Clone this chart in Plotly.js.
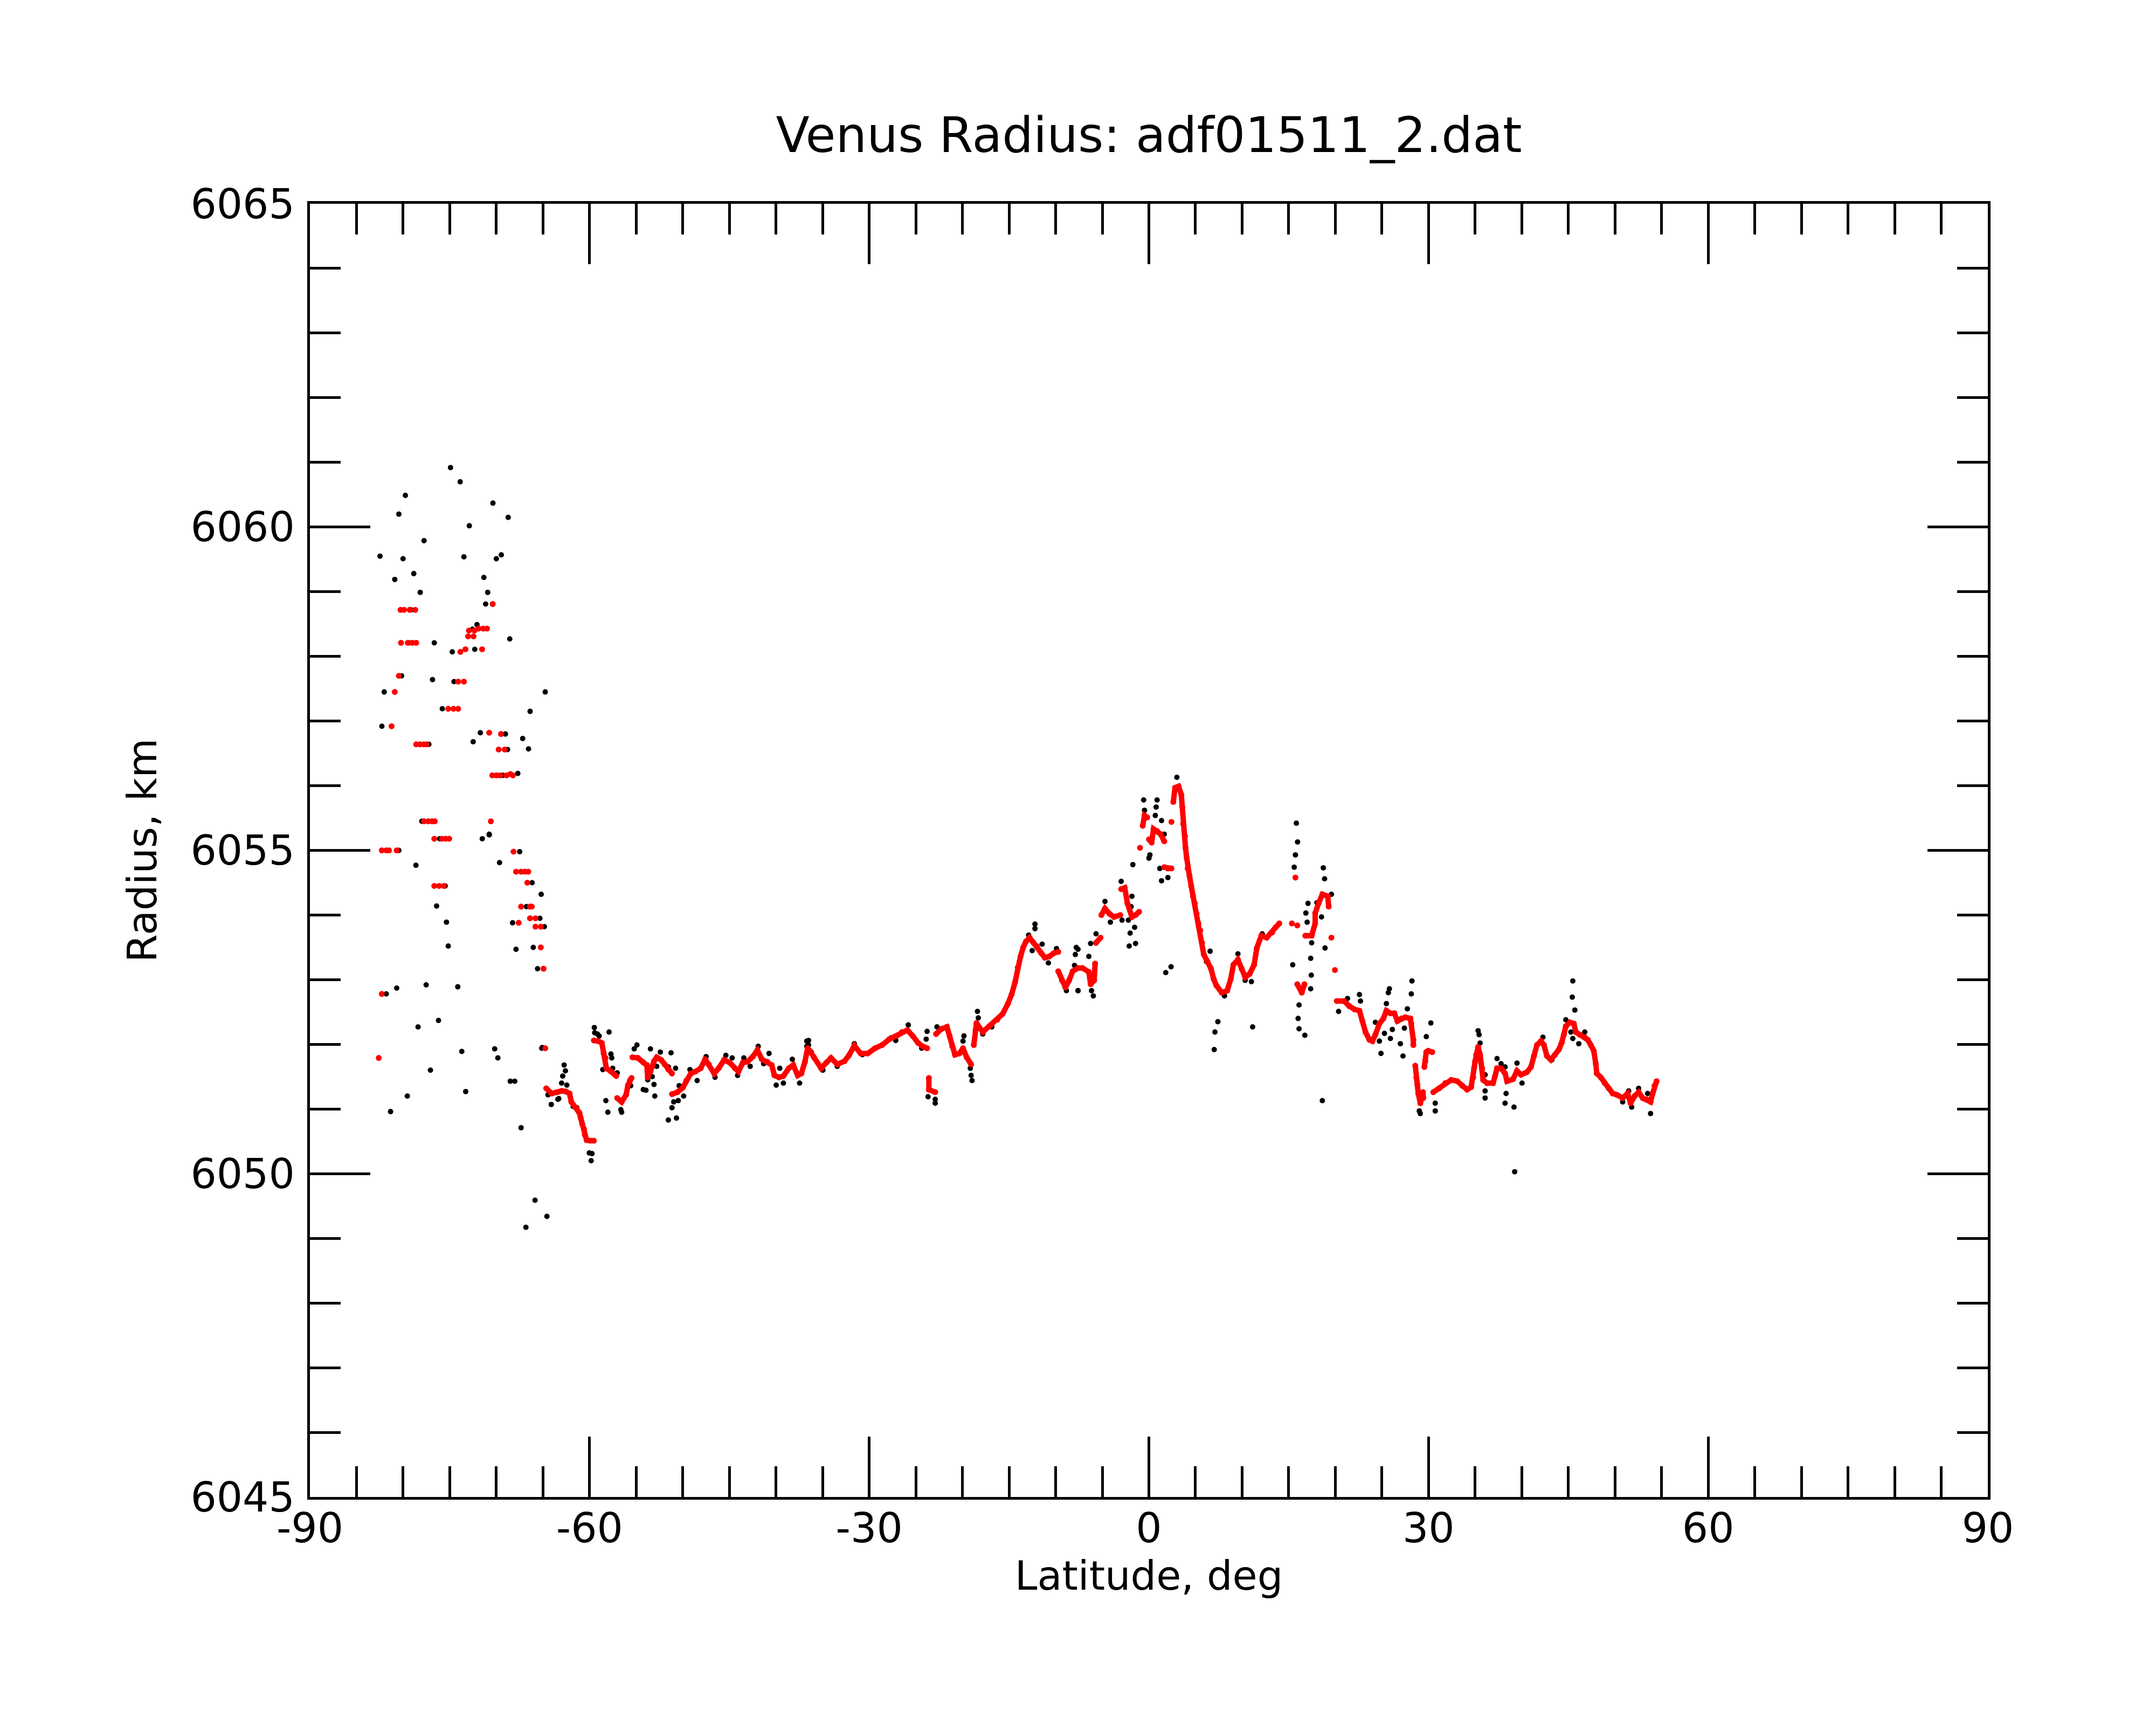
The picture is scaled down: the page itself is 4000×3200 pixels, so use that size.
<!DOCTYPE html>
<html>
<head>
<meta charset="utf-8">
<script src="https://cdn.plot.ly/plotly-3.0.1.min.js"></script>
<style>html,body{margin:0;padding:0;background:#fff;}#chart{width:4000px;height:3200px;}</style>
</head>
<body>
<div id="chart"></div>
<script>
// ---- Data ----
// Raw radius samples (black dots), southern high-latitude scatter
const rawSouthLat = [-74.92,-73.88,-79.76,-70.37,-80.46,-68.73,-72.90,-77.76,-82.48,-80.01,-73.48,-70.0,-69.47,-78.86,-80.90,-71.34,-78.17,-70.93,-71.15,-79.15,-72.08,-72.56,-68.56,-79.35,-76.66,-74.73,-72.32,-80.17,-76.85,-74.54,-82.03,-64.76,-66.38,-75.8,-82.28,-71.72,-69.03,-67.18,-72.49,-77.24,-68.8,-66.55,-69.31,-67.7,-78.0,-70.77,
  -76.08,-71.51,-70.76,-80.46,-67.5,-78.63,-69.66,-66.16,-65.19,-75.49,-76.41,-75.35,-66.77,-68.26,-65.33,-64.85,-75.16,-67.89,-66.04,-65.58,-80.69,-77.53,-74.14,-81.81,-76.21,-78.40,-73.71,-70.18,-69.84,-65.13,-77.07,-68.51,-68.03,-73.29,-79.55,-81.35,-67.35,-65.85,-64.58,-66.83];
const rawSouthRad = [6060.92,6060.70,6060.49,6060.37,6060.20,6060.15,6060.02,6059.79,6059.55,6059.51,6059.54,6059.51,6059.57,6059.28,6059.19,6059.22,6058.99,6058.99,6058.81,6058.72,6058.49,6058.42,6058.27,6058.21,6058.21,6058.07,6058.11,6057.70,6057.64,6057.61,6057.45,6057.45,6057.15,6057.19,6056.92,6056.82,6056.80,6056.73,6056.68,6056.64,6056.56,6056.57,6056.16,6056.19,6055.45,6055.25,
  6055.18,6055.18,6055.24,6055.0,6054.98,6054.77,6054.81,6054.50,6054.32,6054.45,6054.14,6053.89,6054.13,6053.88,6053.95,6053.82,6053.52,6053.47,6053.50,6053.17,6052.87,6052.92,6052.89,6052.78,6052.37,6052.27,6051.89,6051.93,6051.79,6051.94,6051.60,6051.43,6051.43,6051.27,6051.20,6050.96,6050.71,6049.59,6049.34,6049.17];

// Raw radius samples (black dots), main track
const rawMainLat = [-65.08,-62.73,-62.59,-62.88,-63.0,-62.44,-64.46,-64.11,-63.3,-63.4,-61.76,-61.38,-60.03,-59.83,-59.74,
  -59.49,-59.45,-59.16,-58.97,-57.91,-57.71,-57.62,-58.58,-57.52,-57.04,-58.25,-58.04,-56.65,-56.56,-55.69,-55.59,-54.92,-55.21,-53.47,-52.41,-51.26,-54.24,-53.95,-53.09,-53.0,-53.28,-52.8,-51.55,-50.77,-53.76,-51.55,-50.68,-51.16,-50.97,-50.49,-50.39,-49.91,-49.23,-48.46,-47.5,-46.54,-45.38,-44.7,-44.12,-43.45,-42.77,-41.91,-41.33,-40.75,-39.98,-39.6,-39.21,-38.25,-37.47,-36.7,-36.7,
  -36.51,-36.51,-36.22,-34.97,-33.43,-31.6,-30.73,-27.65,-27.16,-25.81,-24.37,-23.69,-22.92,-22.92,-23.79,-23.89,-22.73,-19.84,-19.94,-19.16,-19.07,-18.97,-18.39,-18.3,-17.82,-16.85,-12.22,-12.22,-12.9,-12.52,-11.45,-10.78,-9.91,-8.85,-7.79,-7.89,-7.98,-7.6,
  -7.6,-6.25,-6.44,-5.96,-6.15,-7.6,-5.67,-4.71,-4.13,-2.97,-2.88,-1.82,-1.91,-2.2,-1.53,-2.01,-2.11,-1.43,-1.72,-0.56,-0.47,0.01,0.11,0.69,0.78,0.88,1.36,1.65,1.17,1.36,2.04,1.81,2.38,3.0,
  6.57,6.18,7.4,7.09,7.01,8.11,9.55,10.33,11.0,11.13,12.16,
  15.82,15.95,15.72,15.59,15.43,16.11,16.01,16.11,16.73,17.46,17.36,17.42,17.36,17.07,16.84,16.98,18.71,18.85,18.52,18.9,18.61,18.03,19.58,20.35,
  21.31,22.59,22.7,24.3,25.27,24.73,24.9,25.48,25.69,25.8,25.91,26.12,26.98,27.26,27.41,27.73,28.15,28.22,29.76,30.25,29.01,29.12,30.72,30.72,
  35.32,35.43,35.53,36.07,36.07,36.07,37.35,37.78,38.21,38.32,38.21,39.17,39.49,40.03,39.24,42.27,43.23,44.73,45.27,45.48,45.42,45.48,45.7,46.12,46.76,50.83,51.47,51.79,52.54,53.5,53.82];
const rawMainRad = [6051.95,6051.68,6051.59,6051.51,6051.40,6051.37,6051.22,6051.07,6051.16,6051.15,6051.04,6051.02,6050.32,6050.2,6050.31,
  6052.26,6052.18,6052.16,6052.13,6052.19,6051.85,6051.79,6051.61,6051.63,6051.56,6051.13,6050.95,6050.99,6050.95,6051.44,6051.36,6051.99,6051.93,6051.93,6051.88,6051.87,6051.30,6051.29,6051.38,6051.2,6051.50,6051.66,6051.65,6051.63,6051.45,6050.83,6050.86,6051.02,6051.11,6051.13,6051.36,6051.2,6051.61,6051.44,6051.81,6051.49,6051.83,6051.79,6051.52,6051.79,6051.66,6051.97,6051.7,6051.86,6051.37,6051.63,6051.4,6051.77,6051.4,6052.05,6051.97,
  6052.06,6051.99,6051.88,6051.6,6051.66,6052.01,6051.84,6052.1,6052.06,6052.3,6051.94,6051.19,6051.15,6051.09,6052.2,6052.08,6052.27,6052.13,6052.05,6051.63,6051.52,6051.44,6052.51,6052.41,6052.16,6052.27,6053.86,6053.79,6053.69,6053.45,6053.55,6053.26,6053.48,6052.83,6053.5,6053.39,6053.22,6052.83,
  6053.47,6053.56,6053.36,6052.75,6052.83,6052.83,6053.71,6054.21,6053.89,6054.52,6053.92,6054.29,6054.13,6053.92,6053.81,6053.72,6053.52,6053.56,6054.78,6055.78,6055.62,6054.88,6054.93,6055.54,6055.67,6055.78,6055.46,6055.25,6054.72,6054.53,6054.58,6053.11,6053.2,6056.13,
  6053.44,6053.28,6052.35,6052.19,6051.92,6052.75,6053.4,6052.99,6052.97,6052.27,6053.71,
  6055.42,6055.13,6054.93,6054.74,6053.23,6052.61,6052.4,6052.24,6052.14,6053.57,6053.33,6053.07,6052.86,6054.18,6054.03,6053.89,6054.73,6054.56,6053.97,6053.49,6051.13,6054.19,6054.32,6052.51,
  6052.71,6052.77,6052.67,6052.34,6052.17,6052.05,6051.86,6052.63,6052.8,6052.86,6052.09,6052.23,6052.01,6051.82,6052.25,6052.55,6052.78,6052.98,6052.12,6052.33,6050.97,6050.93,6051.09,6050.97,
  6052.21,6052.15,6052.02,6051.53,6051.28,6051.17,6051.78,6051.7,6051.65,6051.24,6051.09,6051.03,6051.71,6051.4,6050.03,6052.11,6051.76,6052.38,6052.19,6052.98,6052.73,6052.09,6052.53,6052.01,6052.19,6051.11,6051.28,6051.03,6051.32,6051.24,6050.93];

// Smoothed radius (red dots), southern scatter
const fitSouthLat = [-70.39,-80.28,-79.9,-79.3,-78.7,-72.94,-72.36,-71.9,-71.4,-71.0,-73.03,-72.45,-80.23,-79.5,-79.0,-78.6,-73.86,-73.32,-71.53,-80.46,-74.1,-73.48,-80.9,-75.16,-74.6,-74.1,-81.24,-70.77,-69.5,-78.6,-78.2,-77.8,-77.47,-69.75,-69.1,-70.44,-70.0,-69.6,-68.9,-68.5,-68.22,-77.76,-77.3,-76.9,-76.6,-70.59,
  -76.66,-75.83,-75.45,-75.06,-82.29,-81.81,-81.52,-80.69,-68.16,-67.89,-67.35,-66.95,-66.58,-66.68,-76.66,-76.14,-75.64,-67.35,-66.4,-66.2,-67.6,-66.39,-65.8,-65.81,-65.23,-65.23,-64.94,-82.29,-64.75,-82.62];
const fitSouthRad = [6058.81,6058.72,6058.72,6058.72,6058.72,6058.40,6058.40,6058.43,6058.43,6058.43,6058.31,6058.31,6058.21,6058.21,6058.21,6058.21,6058.07,6058.11,6058.11,6057.70,6057.61,6057.61,6057.45,6057.19,6057.19,6057.19,6056.92,6056.82,6056.80,6056.64,6056.64,6056.64,6056.64,6056.56,6056.56,6056.16,6056.16,6056.16,6056.16,6056.18,6056.16,6055.45,6055.45,6055.45,6055.45,6055.45,
  6055.18,6055.18,6055.18,6055.18,6055.0,6055.0,6055.0,6055.0,6054.98,6054.67,6054.67,6054.67,6054.67,6054.50,6054.45,6054.45,6054.45,6054.13,6054.13,6054.13,6053.88,6053.95,6053.95,6053.82,6053.82,6053.50,6053.17,6052.78,6051.94,6051.79];

// Smoothed radius (red dots), main track
const fitMainLat = [-64.65,-64.07,-63.5,-63.0,-62.53,-62.15,-61.96,-61.47,-61.09,-60.95,-60.8,-60.6,-60.51,-60.32,-59.93,-59.54,
  -59.54,-59.06,-58.68,-58.49,-58.29,-58.2,-57.71,-57.14,-57.04,-56.56,-56.08,-55.88,-55.5,-55.4,-54.82,-54.24,-53.86,-53.47,-53.09,-52.8,-52.32,-51.93,-51.55,-51.16,-53.76,-53.47,
  -51.16,-50.58,-50.0,-49.62,-49.14,-48.65,-48.08,-47.6,-47.21,-46.63,-46.15,-45.57,-44.99,-44.41,-44.03,-43.55,-43.06,-42.49,-42.0,-41.52,-40.94,-40.46,-40.17,-39.69,-39.21,-38.63,-38.15,-37.67,-37.28,-36.9,-36.61,
  -36.42,-35.93,-35.16,-34.58,-34.1,-33.43,-32.66,-32.17,-31.6,-30.92,-30.15,-29.38,-28.61,-27.84,-27.07,-26.49,-25.91,-25.33,-24.75,-24.27,-23.79,-23.6,-23.6,-22.92,-22.83,-22.25,-21.67,-21.38,-21.09,-20.8,-20.32,-19.94,-19.55,-19.07,-18.78,-18.59,-18.49,-17.82,-17.04,-16.27,-15.69,-15.12,-14.73,-14.34,-14.06,-13.77,-13.48,-13.19,-12.8,-12.42,-12.03,-11.55,-11.16,-10.68,-10.2,-9.72,-9.72,-9.33,-8.95,-8.56,-8.18,-7.6,-7.12,
  -6.44,-6.25,-5.87,-5.77,-5.67,-5.19,-5.09,-4.71,-4.23,-3.74,-3.07,-2.97,-2.59,-2.3,-1.82,-1.43,-1.05,-0.95,-0.66,-0.47,-0.18,0.01,0.3,0.5,0.88,1.27,1.65,1.65,2.04,2.42,2.42,2.62,2.81,3.19,3.48,3.58,3.68,3.87,3.93,4.06,4.16,4.35,4.54,4.74,4.93,5.12,5.31,5.51,5.7,5.89,6.28,6.66,6.95,7.24,7.82,8.4,8.78,9.07,9.55,9.94,10.33,10.81,11.29,11.58,12.06,12.64,13.22,13.6,13.99,
  15.34,15.92,15.72,15.92,16.4,16.69,16.78,17.46,17.84,17.84,18.23,18.61,19.19,19.29,19.58,19.96,20.16,20.93,21.51,22.08,
  22.59,22.91,23.24,23.66,23.98,24.3,24.73,25.16,25.48,25.91,26.34,26.66,27.09,27.51,28.05,28.15,28.37,28.37,28.58,28.69,28.8,28.9,29.12,29.44,29.4,29.55,29.65,29.76,29.97,30.4,
  30.51,31.15,31.79,32.43,33.07,33.61,34.14,34.57,34.79,34.89,35.0,35.11,35.32,35.53,35.64,35.75,35.86,36.28,36.92,37.14,37.35,37.78,38.21,38.42,39.06,39.49,39.92,40.56,40.99,41.31,41.63,42.06,42.38,42.7,43.13,43.56,43.98,44.3,44.52,44.73,45.16,45.59,45.8,46.23,46.76,47.09,47.41,47.73,47.94,48.05,48.48,48.9,49.33,49.76,50.19,50.83,51.36,51.68,52.11,52.54,52.97,53.4,53.82,54.04,54.25,54.46];
const fitMainRad = [6051.32,6051.24,6051.26,6051.28,6051.27,6051.24,6051.11,6051.02,6050.94,6050.86,6050.77,6050.69,6050.60,6050.52,6050.51,6050.51,
  6052.06,6052.05,6052.02,6051.86,6051.79,6051.63,6051.58,6051.51,6051.17,6051.11,6051.22,6051.37,6051.48,6051.80,6051.79,6051.72,6051.68,6051.63,6051.74,6051.80,6051.76,6051.69,6051.61,6051.55,6051.49,6051.58,
  6051.23,6051.26,6051.33,6051.44,6051.55,6051.58,6051.63,6051.77,6051.69,6051.55,6051.63,6051.76,6051.72,6051.63,6051.58,6051.72,6051.73,6051.81,6051.91,6051.77,6051.73,6051.68,6051.52,6051.49,6051.51,6051.63,6051.68,6051.52,6051.55,6051.73,6051.94,
  6051.91,6051.80,6051.63,6051.72,6051.79,6051.69,6051.74,6051.83,6051.98,6051.86,6051.86,6051.94,6051.99,6052.08,6052.13,6052.19,6052.22,6052.13,6052.02,6051.97,6051.94,6051.48,6051.3,6051.26,6052.16,6052.24,6052.27,6052.13,6051.97,6051.84,6051.86,6051.94,6051.8,6051.69,6051.99,6052.22,6052.33,6052.19,6052.29,6052.38,6052.47,6052.63,6052.77,6052.97,6053.19,6053.36,6053.5,6053.59,6053.65,6053.58,6053.52,6053.41,6053.34,6053.36,6053.41,6053.43,6053.13,6052.99,6052.88,6052.99,6053.13,6053.18,6053.18,
  6053.12,6052.93,6052.99,6053.25,6053.57,6053.65,6054.0,6054.1,6054.02,6053.97,6054.0,6054.4,6054.42,6054.18,6053.97,6054.0,6054.05,6055.04,6055.38,6055.54,6055.51,6055.17,6055.12,6055.33,6055.3,6055.25,6055.14,6054.74,6054.72,6054.72,6055.44,6055.75,6055.97,6055.99,6055.86,6055.67,6055.41,6055.22,6055.04,6054.88,6054.72,6054.61,6054.45,6054.29,6054.18,6054.02,6053.87,6053.76,6053.57,6053.39,6053.28,6053.17,6053.01,6052.91,6052.8,6052.83,6053.01,6053.23,6053.31,6053.17,6053.04,6053.09,6053.23,6053.49,6053.68,6053.65,6053.73,6053.81,6053.87,
  6053.87,6053.84,6054.58,6052.93,6052.8,6052.93,6053.68,6053.68,6053.87,6054.03,6054.19,6054.32,6054.29,6054.13,6053.65,6053.15,6052.67,6052.67,6052.59,6052.54,
  6052.52,6052.36,6052.19,6052.07,6052.05,6052.15,6052.32,6052.4,6052.52,6052.48,6052.48,6052.36,6052.4,6052.42,6052.4,6052.32,6052.07,6051.99,6051.67,6051.49,6051.38,6051.24,6051.09,6051.17,6051.26,6051.65,6051.74,6051.88,6051.9,6051.88,
  6051.26,6051.32,6051.4,6051.45,6051.43,6051.36,6051.3,6051.34,6051.49,6051.63,6051.74,6051.84,6051.96,6051.84,6051.71,6051.63,6051.45,6051.4,6051.4,6051.51,6051.63,6051.63,6051.55,6051.43,6051.46,6051.59,6051.53,6051.57,6051.65,6051.82,6051.99,6052.05,6051.99,6051.82,6051.76,6051.84,6051.92,6052.03,6052.15,6052.28,6052.34,6052.32,6052.19,6052.15,6052.11,6052.07,6051.99,6051.9,6051.7,6051.55,6051.49,6051.4,6051.32,6051.24,6051.22,6051.17,6051.24,6051.09,6051.2,6051.26,6051.17,6051.15,6051.11,6051.24,6051.36,6051.43];

// Axis tick values / labels
const xTickVals = [-90,-60,-30,0,30,60,90];
const yTickVals = [6045,6050,6055,6060,6065];

const FONT = 'DejaVu Sans, Verdana, sans-serif';

// Connector path along the smoothed track (sorted; broken where neighbours are far apart)
function buildPath(lat, rad) {
  const idx = lat.map((v, i) => i).sort((a, b) => lat[a] - lat[b] || 0);
  const px = [], py = [];
  for (let k = 0; k < idx.length; k++) {
    const i = idx[k];
    if (k > 0) {
      const j = idx[k - 1];
      if (Math.abs(rad[i] - rad[j]) > 0.27 || Math.abs(lat[i] - lat[j]) > 0.8) { px.push(null); py.push(null); }
    }
    px.push(lat[i]); py.push(rad[i]);
  }
  return {px, py};
}
const path = buildPath(fitMainLat, fitMainRad);

const rawTrace = {
  type: 'scatter', mode: 'markers',
  x: rawSouthLat.concat(rawMainLat),
  y: rawSouthRad.concat(rawMainRad),
  marker: {color: '#000000', size: 10, line: {width: 0}},
  hoverinfo: 'x+y', showlegend: false
};
const fitPathTrace = {
  type: 'scatter', mode: 'lines',
  x: path.px, y: path.py, connectgaps: false,
  line: {color: '#ff0000', width: 10},
  hoverinfo: 'skip', showlegend: false
};
const fitTrace = {
  type: 'scatter', mode: 'markers',
  x: fitSouthLat.concat(fitMainLat),
  y: fitSouthRad.concat(fitMainRad),
  marker: {color: '#ff0000', size: 11, line: {width: 0}},
  hoverinfo: 'x+y', showlegend: false
};

const axisCommon = {
  showline: true, linecolor: '#000', linewidth: 5, mirror: 'ticks',
  ticks: 'inside', tickcolor: '#000', tickwidth: 5, ticklen: 112,
  showgrid: false, zeroline: false, automargin: false,
  tickfont: {family: FONT, size: 76, color: '#000'}
};

const layout = {
  width: 4000, height: 3200,
  paper_bgcolor: '#ffffff', plot_bgcolor: '#ffffff',
  margin: {l: 575, r: 312, t: 378, b: 423, pad: 0},
  font: {family: FONT, color: '#000'},
  title: {
    text: 'Venus Radius: adf01511_2.dat',
    font: {family: FONT, size: 91, color: '#000'},
    x: 0.5, xref: 'paper', xanchor: 'center',
    y: 1 - 250/3200, yref: 'container', yanchor: 'middle'
  },
  xaxis: Object.assign({}, axisCommon, {
    range: [-90, 90], tickmode: 'array', tickvals: xTickVals,
    ticktext: xTickVals.map(String),
    ticklabelstandoff: -12,
    minor: {dtick: 5, tick0: -90, ticks: 'inside', ticklen: 57, tickwidth: 5, tickcolor: '#000', showgrid: false},
    title: {text: 'Latitude, deg', font: {family: FONT, size: 75, color: '#000'}, standoff: 0}
  }),
  yaxis: Object.assign({}, axisCommon, {
    range: [6045, 6065], tickmode: 'array', tickvals: yTickVals,
    ticktext: yTickVals.map(String),
    ticklabelstandoff: 8,
    minor: {dtick: 1, tick0: 6045, ticks: 'inside', ticklen: 57, tickwidth: 5, tickcolor: '#000', showgrid: false},
    title: {text: 'Radius, km', font: {family: FONT, size: 75, color: '#000'}, standoff: 40}
  })
};

Plotly.newPlot('chart', [rawTrace, fitPathTrace, fitTrace], layout, {staticPlot: true, displayModeBar: false});
</script>
</body>
</html>
